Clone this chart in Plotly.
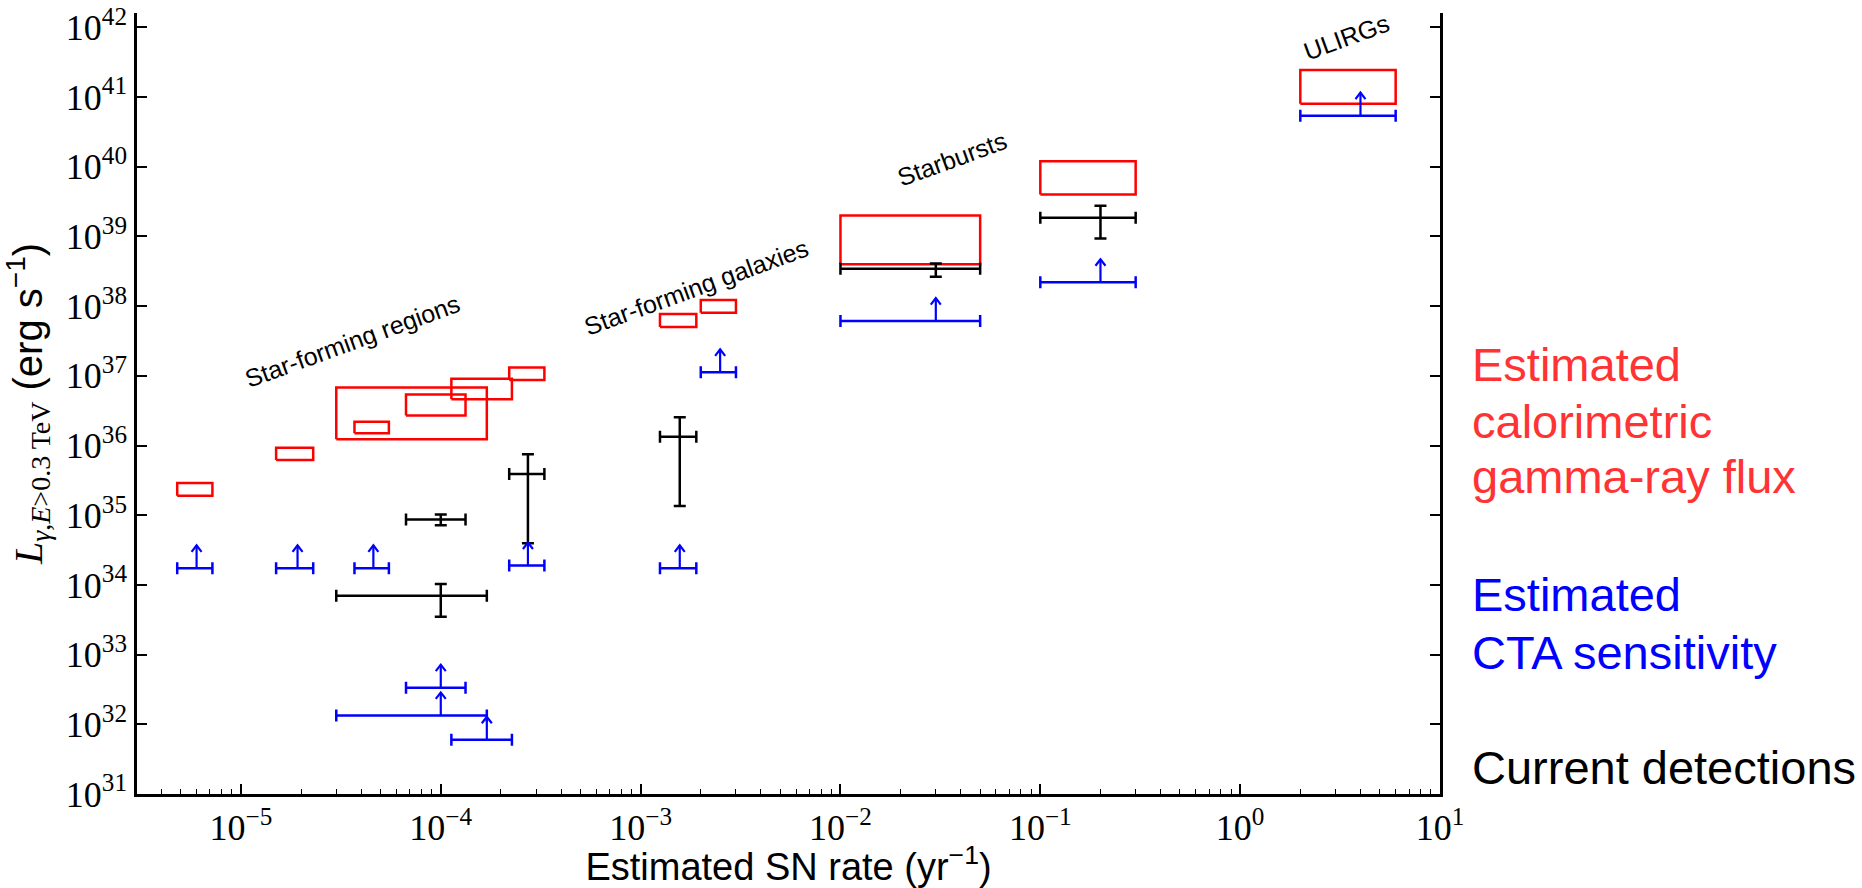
import numpy as np
import plotly.graph_objects as go

# ---------------- data ----------------
# Estimated calorimetric gamma-ray flux: boxes (SN-rate range x luminosity range)
red_x0 = [4.8e-6, 1.5e-5, 3.7e-5, 3.0e-5, 6.7e-5, 1.13e-4, 2.2e-4, 1.25e-3, 2.0e-3, 1e-2, 0.1, 2.0]
red_x1 = [7.2e-6, 2.3e-5, 5.5e-5, 1.7e-4, 1.33e-4, 2.27e-4, 3.3e-4, 1.9e-3, 3.0e-3, 5e-2, 0.3, 6.0]
red_y0 = [1.9e35, 6.2e35, 1.5e36, 1.23e36, 2.7e36, 4.6e36, 8.7e36, 5.0e37, 8.0e37, 4.0e38, 4.0e39, 8.0e40]
red_y1 = [2.9e35, 9.3e35, 2.2e36, 6.8e36, 5.4e36, 9.1e36, 1.32e37, 7.7e37, 1.22e38, 2.0e39, 1.2e40, 2.45e41]

# Estimated CTA sensitivity: lower limits
blue_x = [6.0e-6, 1.92e-5, 4.6e-5, 1e-4, 1e-4, 1.7e-4, 2.73e-4, 2.5e-3, 1.57e-3, 0.03, 0.2, 4.0]
blue_xlo = [4.8e-6, 1.5e-5, 3.7e-5, 6.7e-5, 3.0e-5, 1.13e-4, 2.2e-4, 2.0e-3, 1.25e-3, 0.01, 0.1, 2.0]
blue_xhi = [7.2e-6, 2.3e-5, 5.5e-5, 1.33e-4, 1.7e-4, 2.27e-4, 3.3e-4, 3.0e-3, 1.9e-3, 0.05, 0.3, 6.0]
blue_y = [1.73e34, 1.73e34, 1.73e34, 3.35e32, 1.34e32, 6.0e31, 1.9e34, 1.12e37, 1.73e34, 6.1e37, 2.2e38, 5.4e40]

# Current detections
det_x = [1e-4, 1e-4, 2.73e-4, 1.57e-3, 0.03, 0.2]
det_xlo = [6.7e-5, 3.0e-5, 2.2e-4, 1.25e-3, 0.01, 0.1]
det_xhi = [1.33e-4, 1.7e-4, 3.3e-4, 1.9e-3, 0.05, 0.3]
det_y = [8.7e34, 7.0e33, 3.9e35, 1.34e36, 3.44e38, 1.85e39]
det_ylo = [7.2e34, 3.5e33, 3.95e34, 1.36e35, 2.64e38, 9.3e38]
det_yhi = [1.02e35, 1.03e34, 7.5e35, 2.54e36, 4.1e38, 2.75e39]

# Category labels (text, x, y)
cat_text = ["Star-forming regions", "Star-forming galaxies", "Starbursts", "ULIRGs"]
cat_x = [3.6e-5, 1.9e-3, 3.6e-2, 3.4]
cat_y = [3.2e37, 1.9e38, 1.3e40, 7.2e41]

# Axis ticks
x_exps = [-5, -4, -3, -2, -1, 0, 1]
y_exps = list(range(31, 43))

# Right-hand legend texts
legend_lines = [
    ("Estimated", "#ff3333"), ("calorimetric", "#ff3333"), ("gamma-ray flux", "#ff3333"),
    ("Estimated", "#0000ff"), ("CTA sensitivity", "#0000ff"),
    ("Current detections", "#000000"),
]
legend_mid_px = [364, 421, 477, 594, 652, 767]

# ---------------- figure ----------------
W, H = 1862, 888
ML, MR, MT, MB = 137, 422, 13, 94
plot_h = H - MT - MB
plot_w = W - ML - MR
PX_PER_DEC_X = plot_w / 6.52
PX_PER_DEC_Y = 69.7

fig = go.Figure()

# red boxes
bx, by = [], []
for x0, x1, y0, y1 in zip(red_x0, red_x1, red_y0, red_y1):
    bx += [x0, x1, x1, x0, x0, None]
    by += [y0, y0, y1, y1, y0, None]
fig.add_trace(go.Scatter(x=bx, y=by, mode="lines",
                         line=dict(color="#ff0000", width=2.5),
                         hoverinfo="skip", showlegend=False))

# black detections
fig.add_trace(go.Scatter(
    x=det_x, y=det_y, mode="markers",
    marker=dict(size=1, color="rgba(0,0,0,0)"),
    error_x=dict(type="data", symmetric=False,
                 array=[h - c for h, c in zip(det_xhi, det_x)],
                 arrayminus=[c - l for c, l in zip(det_x, det_xlo)],
                 color="black", thickness=2.5, width=6),
    error_y=dict(type="data", symmetric=False,
                 array=[h - c for h, c in zip(det_yhi, det_y)],
                 arrayminus=[c - l for c, l in zip(det_y, det_ylo)],
                 color="black", thickness=2.5, width=6),
    showlegend=False))

# blue sensitivity bars
fig.add_trace(go.Scatter(
    x=blue_x, y=blue_y, mode="markers",
    marker=dict(size=1, color="rgba(0,0,0,0)"),
    error_x=dict(type="data", symmetric=False,
                 array=[h - c for h, c in zip(blue_xhi, blue_x)],
                 arrayminus=[c - l for c, l in zip(blue_x, blue_xlo)],
                 color="#0000ff", thickness=2.5, width=6),
    showlegend=False))

# lower-limit arrows (shaft + open chevron head), in data space
ARROW_PX = 23.0      # arrow length
HEAD_W_PX = 5.0      # half-width of head
HEAD_H_PX = 6.5      # height of head
ax_, ay_ = [], []
for xc, yb in zip(blue_x, blue_y):
    ytip = yb * 10 ** (ARROW_PX / PX_PER_DEC_Y)
    xl = xc * 10 ** (-HEAD_W_PX / PX_PER_DEC_X)
    xr = xc * 10 ** (HEAD_W_PX / PX_PER_DEC_X)
    yh = ytip * 10 ** (-HEAD_H_PX / PX_PER_DEC_Y)
    ax_ += [xc, xc, None, xl, xc, xr, None]
    ay_ += [yb, ytip, None, yh, ytip, yh, None]
fig.add_trace(go.Scatter(x=ax_, y=ay_, mode="lines",
                         line=dict(color="#0000ff", width=2.2),
                         hoverinfo="skip", showlegend=False))

annotations = []
# category labels
for t, xv, yv in zip(cat_text, cat_x, cat_y):
    annotations.append(dict(
        x=np.log10(xv), y=np.log10(yv), xref="x", yref="y",
        text=t, showarrow=False, textangle=-20,
        font=dict(family="Liberation Sans", size=25, color="black")))

# right legend texts
for (t, c), ymid in zip(legend_lines, legend_mid_px):
    annotations.append(dict(
        x=(1470 - ML) / plot_w, y=(H - MB - ymid) / plot_h,
        xref="paper", yref="paper", xanchor="left", yanchor="middle",
        text=t, showarrow=False,
        font=dict(family="Liberation Sans", size=47, color=c)))

tickfont = dict(family="Liberation Serif", size=36, color="black")

fig.update_layout(
    width=W, height=H,
    margin=dict(l=ML, r=MR, t=MT, b=MB, autoexpand=False),
    paper_bgcolor="white", plot_bgcolor="white",
    showlegend=False,
    annotations=annotations,
    xaxis=dict(
        type="log", range=[-5.52, 1.0], automargin=False,
        showgrid=False, zeroline=False,
        showline=True, linecolor="black", linewidth=2.5, mirror=False,
        ticks="inside", ticklen=10, tickwidth=1.5, tickcolor="black",
        tickmode="array",
        tickvals=[10.0 ** e for e in x_exps],
        ticktext=["10<sup>%s</sup>" % (str(e).replace("-", "−")) for e in x_exps],
        tickfont=tickfont,
        minor=dict(ticks="inside", ticklen=5, tickwidth=1.2, tickcolor="black",
                   tickmode="array",
                   tickvals=[k * 10.0 ** e for e in range(-6, 1) for k in range(2, 10)]),
        title=dict(text="Estimated SN rate (yr<sup>−1</sup>)",
                   font=dict(family="Liberation Sans", size=38, color="black"),
                   standoff=12),
    ),
    yaxis=dict(
        type="log", range=[31, 31 + (H - MB - MT) / PX_PER_DEC_Y], automargin=False,
        showgrid=False, zeroline=False,
        showline=True, linecolor="black", linewidth=2.5, mirror="ticks",
        ticks="inside", ticklen=10, tickwidth=1.5, tickcolor="black",
        tickmode="array",
        tickvals=[10.0 ** e for e in y_exps],
        ticktext=["10<sup>%d</sup>" % e for e in y_exps],
        tickfont=tickfont,
        title=dict(
            text='<span style="font-family:Liberation Serif"><i>L</i><sub><i>γ</i>,<i>E</i>&gt;0.3 TeV</sub></span> (erg s<sup>−1</sup>)',
            font=dict(family="Liberation Sans", size=40, color="black"),
            standoff=14),
    ),
)

fig.write_html("out.html")
